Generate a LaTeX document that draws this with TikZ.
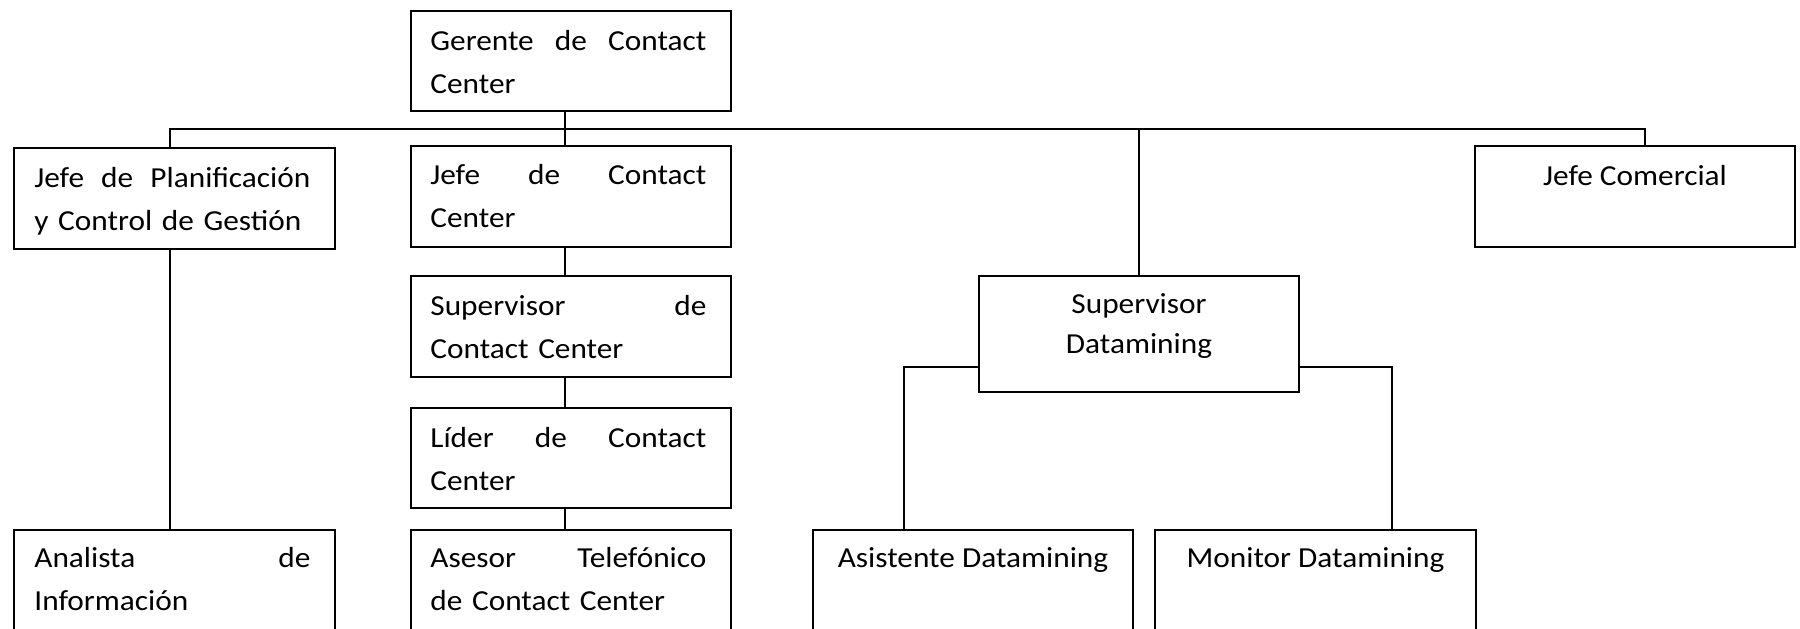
\documentclass[tikz,border=0pt]{standalone}
\usepackage{fontspec}
\setmainfont{Carlito}[FakeStretch=1.08]
\begin{document}
\begin{tikzpicture}[x=0.5pt,y=-0.5pt,
  box/.style={draw, line width=1pt, anchor=north west, inner sep=0,
              minimum width=160pt, minimum height=50pt},
  lbl/.style={anchor=north west, inner sep=0, text width=138pt, align=left,
              font=\fontsize{14.5}{21.5}\selectfont},
  clbl/.style={anchor=north, inner sep=0, align=center,
               font=\fontsize{14.5}{20}\selectfont},
  link/.style={line width=1pt}]
\useasboundingbox (0,0) rectangle (1800,628);

% boxes
\node[box] (ger) at (410,10) {};
\node[box, minimum width=160.5pt, minimum height=50.5pt] (jp) at (13,147) {};
\node[box, minimum height=50.5pt] (jcc) at (410,145) {};
\node[box, minimum height=50.5pt] (jcom) at (1474,145) {};
\node[box, minimum height=50.5pt] (scc) at (410,275) {};
\node[box, minimum height=58pt] (sdm) at (978,275) {};
\node[box] (lcc) at (410,407) {};
\node[box, minimum width=160.5pt, minimum height=50.5pt] (ana) at (13,529) {};
\node[box, minimum height=50.5pt] (ase) at (410,529) {};
\node[box, minimum height=50.5pt] (asi) at (812,529) {};
\node[box, minimum width=160.5pt, minimum height=50.5pt] (mon) at (1154,529) {};

% labels (first lines justified across the full text width)
\node[lbl] (ger-t) at ([shift={(20,0)}]ger.north west)
  {\rule{0pt}{20pt}\hbox to 138pt{Gerente\hfill de\hfill Contact}\\Center};
\node[lbl] (jp-t) at ([shift={(21,0)}]jp.north west)
  {\rule{0pt}{20pt}\hbox to 138pt{Jefe\hfill de\hfill Planificación}\\y Control de Gestión};
\node[lbl] (jcc-t) at ([shift={(20,0)}]jcc.north west)
  {\rule{0pt}{19.5pt}\hbox to 138pt{Jefe\hfill de\hfill Contact}\\Center};
\node[lbl] (scc-t) at ([shift={(20,0)}]scc.north west)
  {\rule{0pt}{20pt}\hbox to 138pt{Supervisor\hfill de}\\Contact Center};
\node[lbl] (lcc-t) at ([shift={(20,0)}]lcc.north west)
  {\rule{0pt}{20pt}\hbox to 138pt{Líder\hfill de\hfill Contact}\\Center};
\node[lbl] (ana-t) at ([shift={(21,0)}]ana.north west)
  {\rule{0pt}{19pt}\hbox to 138pt{Analista\hfill de}\\Información};
\node[lbl] (ase-t) at ([shift={(20,0)}]ase.north west)
  {\rule{0pt}{19pt}\hbox to 138pt{Asesor\hfill Telefónico}\\de Contact Center};
\node[clbl] (jcom-t) at (jcom.north) {\rule{0pt}{20pt}Jefe Comercial};
\node[clbl] (sdm-t) at (sdm.north) {\rule{0pt}{19pt}Supervisor\\Datamining};
\node[clbl] (asi-t) at (asi.north) {\rule{0pt}{19pt}Asistente Datamining};
\node[clbl] (mon-t) at (mon.north) {\rule{0pt}{19pt}Monitor Datamining};

% connectors
\coordinate (busL) at (170,129);
\coordinate (busR) at (1645,129);
\coordinate (busC) at (565,129);
\draw[link] (busL |- jp.north) -- (busL) -- (busR) -- (busR |- jcom.north);
\draw[link] (busC |- ger.south) -- (busC |- jcc.north);
\draw[link] (sdm.north) -- (sdm.north |- busC);
\draw[link] (busL |- jp.south) -- (busL |- ana.north);
\draw[link] (busC |- jcc.south) -- (busC |- scc.north);
\draw[link] (busC |- scc.south) -- (busC |- lcc.north);
\draw[link] (busC |- lcc.south) -- (busC |- ase.north);
\coordinate (dmL) at (904,367);
\coordinate (dmR) at (1392,367);
\draw[link] (dmL -| sdm.west) -- (dmL) -- (dmL |- asi.north);
\draw[link] (dmR -| sdm.east) -- (dmR) -- (dmR |- mon.north);
\end{tikzpicture}
\end{document}
